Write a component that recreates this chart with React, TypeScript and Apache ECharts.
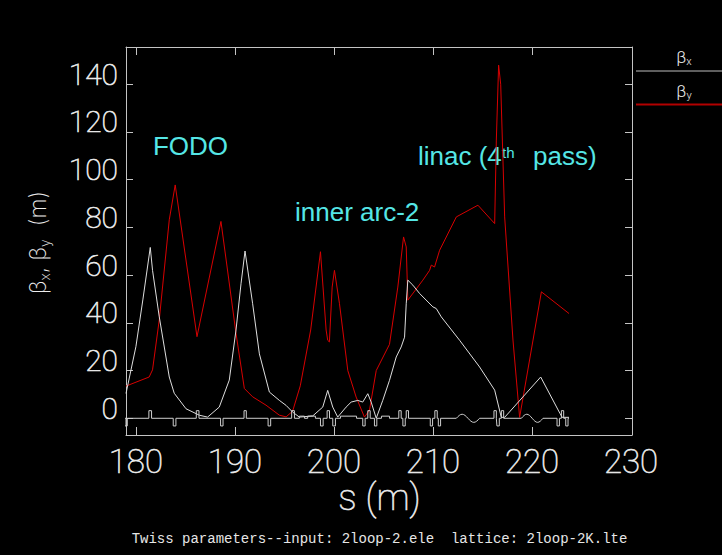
import { useEffect, useRef } from "react";
import * as echarts from "echarts";

// Axis ticks
const xTicks = [180, 190, 200, 210, 220, 230];
const yTicks = [0, 20, 40, 60, 80, 100, 120, 140];

// Horizontal beta function beta_x (m) along s (m)
const betaXS = [179.0, 180.0, 180.7, 181.45, 181.68, 182.36, 183.37, 183.87, 185.06, 186.4, 187.24, 188.42, 189.43, 190.11, 190.62, 191.02, 191.79, 192.47, 193.48, 194.49, 195.17, 195.83, 196.51, 197.86, 198.87, 199.37, 199.88, 200.38, 201.23, 201.74, 202.41, 202.91, 203.42, 203.76, 204.27, 204.93, 205.61, 206.29, 206.79, 207.13, 207.3, 207.46, 207.97, 208.65, 209.99, 210.33, 210.84, 212.69, 214.71, 216.23, 216.9, 217.24, 220.88, 222.83, 223.05, 223.74];
const betaXV = [10.4, 30, 49.6, 71.6, 62, 42.5, 17.3, 10.5, 4.0, 1.3, 0.5, 4.7, 16, 37, 56.6, 70.1, 48, 27, 11, 7.5, 5.4, 2.6, 0.5, 1.0, 4.7, 11.7, 4.7, 0.5, 4.7, 6.8, 7.5, 6.8, 10.3, 6.8, 0.0, 7.5, 15.9, 25.7, 29.9, 34, 48, 57.9, 55.8, 52.3, 46.7, 46.0, 42.5, 32.7, 21.5, 11.8, 0.4, 0.4, 17.3, 2.0, 0.4, 0.4];

// Vertical beta function beta_y (m) along s (m)
const betaYS = [179.0, 181.34, 181.68, 182.36, 183.37, 183.97, 186.17, 188.59, 190.11, 190.95, 191.79, 193.14, 194.49, 195.17, 195.83, 196.6, 197.65, 198.64, 199.21, 199.37, 199.54, 199.82, 200.05, 200.56, 201.4, 202.24, 203.08, 203.59, 204.27, 205.61, 206.45, 207.03, 207.3, 207.46, 208.98, 209.66, 209.83, 210.16, 210.67, 212.36, 214.54, 216.23, 216.4, 216.63, 216.84, 217.24, 218.08, 218.75, 220.95, 223.74];
const betaYV = [13.5, 17.3, 20.3, 41.3, 83.2, 97.8, 34.2, 82.5, 35.6, 12.5, 9.0, 5.5, 1.3, 0.6, 3.0, 13.6, 37, 69.8, 37, 32.7, 32, 55, 62, 48, 20, 8.9, 0.5, 3.4, 20, 31, 55, 76, 71.8, 49.5, 57.9, 62, 64.2, 63.4, 70.4, 84.4, 89.3, 81.6, 116.6, 148, 140, 84.4, 32.8, 0.4, 53, 43.9];

// Lattice profile: element extents along s (m)
const profileStart = 179.0;
const profileEnd = 223.74;
const focusingQuads = [[181.31, 181.58], [186.1, 186.37], [190.92, 191.15], [195.73, 196.01], [199.31, 199.55], [203.42, 203.66], [206.55, 206.79], [207.3, 207.53], [210.19, 210.43], [216.16, 216.4], [216.91, 217.14], [222.97, 223.2]];
const defocusingQuads = [[178.9, 179.13], [183.77, 184.04], [188.55, 188.8], [193.35, 193.61], [198.64, 198.91], [199.88, 200.15], [202.91, 203.15], [204.09, 204.33], [206.96, 207.2], [209.73, 209.96], [210.54, 210.77], [216.46, 216.7], [222.53, 222.77], [223.41, 223.64]];
const dipoles = [[196.51, 197.02], [197.35, 198.13], [200.66, 202.28], [204.8, 205.61]];
const cavities = [[212.36, 214.71], [218.93, 221.11]];

// Profile symbol heights (plot units)
const quadHeight = 3.2;
const bendHeight = 0.9;
const cavityAmp = 1.7;

type Elem = { a: number; b: number; kind: string };

function buildProfile(): number[][] {
  const elems: Elem[] = [
    ...focusingQuads.map(([a, b]) => ({ a, b, kind: "qf" })),
    ...defocusingQuads.map(([a, b]) => ({ a, b, kind: "qd" })),
    ...dipoles.map(([a, b]) => ({ a, b, kind: "b" })),
    ...cavities.map(([a, b]) => ({ a, b, kind: "rf" })),
  ].sort((p, q) => p.a - q.a);
  const pts: number[][] = [[profileStart, 0]];
  for (const e of elems) {
    pts.push([e.a, 0]);
    if (e.kind === "rf") {
      const n = 16;
      for (let k = 1; k < n; k++) {
        const f = k / n;
        pts.push([e.a + (e.b - e.a) * f, cavityAmp * Math.sin(2 * Math.PI * f)]);
      }
    } else {
      const h = e.kind === "qf" ? quadHeight : e.kind === "qd" ? -quadHeight : bendHeight;
      pts.push([e.a, h], [e.b, h]);
    }
    pts.push([e.b, 0]);
  }
  pts.push([profileEnd, 0]);
  return pts;
}

const frame = "#c4c4c4";
const textGray = "#ececec";
const cyan = "#55e6e6";
// thin white strokes for the axis numbers
const thinLabel = { fontFamily: "Roboto", fontWeight: 100 as const, textBorderColor: textGray, textBorderWidth: 0.6 };

const xRange = { min: 179.0, max: 230.1 };
const yRange = { min: -7.0, max: 155.6 };

function subRich(big: number, small: number, family: string, weight: number) {
  return {
    b: { fontFamily: family, fontWeight: weight, fontSize: big, fill: textGray, color: textGray, lineHeight: big + 3, verticalAlign: "middle" },
    s: { fontFamily: family, fontWeight: weight, fontSize: small, fill: textGray, color: textGray, verticalAlign: "bottom", lineHeight: small },
  };
}

function buildOption(): echarts.EChartsOption {
  const xBase = {
    type: "value" as const,
    ...xRange,
    axisLine: { show: true, onZero: false, lineStyle: { color: frame, width: 1 } },
    axisTick: { show: true, inside: true, length: 8, customValues: xTicks.slice(0, 5), lineStyle: { color: frame } },
    splitLine: { show: false },
  };
  const yBase = {
    type: "value" as const,
    ...yRange,
    axisLine: { show: true, onZero: false, lineStyle: { color: frame, width: 1 } },
    axisTick: { show: true, inside: true, length: 7, customValues: yTicks, lineStyle: { color: frame } },
    splitLine: { show: false },
  };
  return {
    animation: false,
    backgroundColor: "#000",
    grid: { left: 126, right: 90, top: 47, bottom: 120, containLabel: false },
    xAxis: [
      {
        ...xBase,
        position: "bottom",
        axisLabel: { show: true, customValues: xTicks, margin: 10, fontSize: 33, ...thinLabel, color: textGray },
      },
      { ...xBase, position: "top", axisLabel: { show: false } },
    ],
    yAxis: [
      {
        ...yBase,
        position: "left",
        axisLabel: {
          show: true, customValues: yTicks, margin: 8, fontSize: 30, ...thinLabel, color: textGray,
          verticalAlign: "bottom", lineHeight: 20,
        },
      },
      { ...yBase, position: "right", axisLabel: { show: false } },
    ],
    series: [
      {
        type: "line",
        name: "βy",
        data: betaYS.map((s, i) => [s, betaYV[i]]),
        symbol: "none",
        showSymbol: false,
        silent: true,
        lineStyle: { color: "#d80000", width: 1 },
        z: 2,
      },
      {
        type: "line",
        name: "βx",
        data: betaXS.map((s, i) => [s, betaXV[i]]),
        symbol: "none",
        showSymbol: false,
        silent: true,
        lineStyle: { color: "#dedede", width: 1 },
        z: 3,
      },
      {
        type: "line",
        name: "profile",
        data: buildProfile(),
        symbol: "none",
        showSymbol: false,
        silent: true,
        lineStyle: { color: "#cfcfcf", width: 1 },
        z: 4,
      },
    ],
    graphic: {
      elements: [
        // legend
        { type: "line", shape: { x1: 636, y1: 71, x2: 722, y2: 71 }, style: { stroke: "#bdbdbd", lineWidth: 1 }, silent: true },
        { type: "line", shape: { x1: 636, y1: 104.5, x2: 722, y2: 104.5 }, style: { stroke: "#b20000", lineWidth: 2 }, silent: true },
        {
          type: "text", x: 684, y: 57, silent: true,
          style: { text: "{b|β}{s|x}", align: "center", verticalAlign: "middle", rich: subRich(17, 11, "Roboto", 300) },
        },
        {
          type: "text", x: 684, y: 91, silent: true,
          style: { text: "{b|β}{s|y}", align: "center", verticalAlign: "middle", rich: subRich(17, 11, "Roboto", 300) },
        },
        // y axis title
        {
          type: "text", x: 38, y: 242.5, rotation: Math.PI / 2, silent: true,
          style: { text: "{b|β}{s|x}{b|, β}{s|y}{b|  (m)}", align: "center", verticalAlign: "middle", rich: subRich(23, 14, "Inter", 200) },
        },
        // x axis title
        {
          type: "text", x: 379.5, y: 497.5, silent: true,
          style: { text: "s (m)", fontFamily: "Roboto", fontWeight: 100, fontSize: 37, fill: textGray, stroke: textGray, lineWidth: 0.6, align: "center", verticalAlign: "middle" },
        },
        // footer
        {
          type: "text", x: 379.5, y: 539, silent: true,
          style: { text: "Twiss parameters--input: 2loop-2.ele  lattice: 2loop-2K.lte", fontFamily: "Liberation Mono", fontSize: 14, fill: "#e6e6e6", align: "center", verticalAlign: "middle" },
        },
        // section annotations
        {
          type: "text", x: 190.5, y: 146, silent: true,
          style: { text: "FODO", fontFamily: "Liberation Sans", fontSize: 26, fill: cyan, align: "center", verticalAlign: "middle" },
        },
        {
          type: "text", x: 295, y: 212, silent: true,
          style: { text: "inner arc-2", fontFamily: "Liberation Sans", fontSize: 26, fill: cyan, align: "left", verticalAlign: "middle" },
        },
        {
          type: "text", x: 418, y: 156, silent: true,
          style: { text: "linac (4", fontFamily: "Liberation Sans", fontSize: 26, fill: cyan, align: "left", verticalAlign: "middle" },
        },
        {
          type: "text", x: 502, y: 152.5, silent: true,
          style: { text: "th", fontFamily: "Liberation Sans", fontSize: 15, fill: cyan, align: "left", verticalAlign: "middle" },
        },
        {
          type: "text", x: 533, y: 156, silent: true,
          style: { text: "pass)", fontFamily: "Liberation Sans", fontSize: 26, fill: cyan, align: "left", verticalAlign: "middle" },
        },
      ],
    },
  } as echarts.EChartsOption;
}

export default function App() {
  const ref = useRef<HTMLDivElement>(null);
  useEffect(() => {
    if (!ref.current) return;
    const chart = echarts.init(ref.current, undefined, { renderer: "svg" });
    chart.setOption(buildOption());
    return () => chart.dispose();
  }, []);
  return (
    <div
      ref={ref}
      style={{ position: "absolute", left: 0, top: 0, width: 722, height: 555, background: "#000" }}
    />
  );
}
